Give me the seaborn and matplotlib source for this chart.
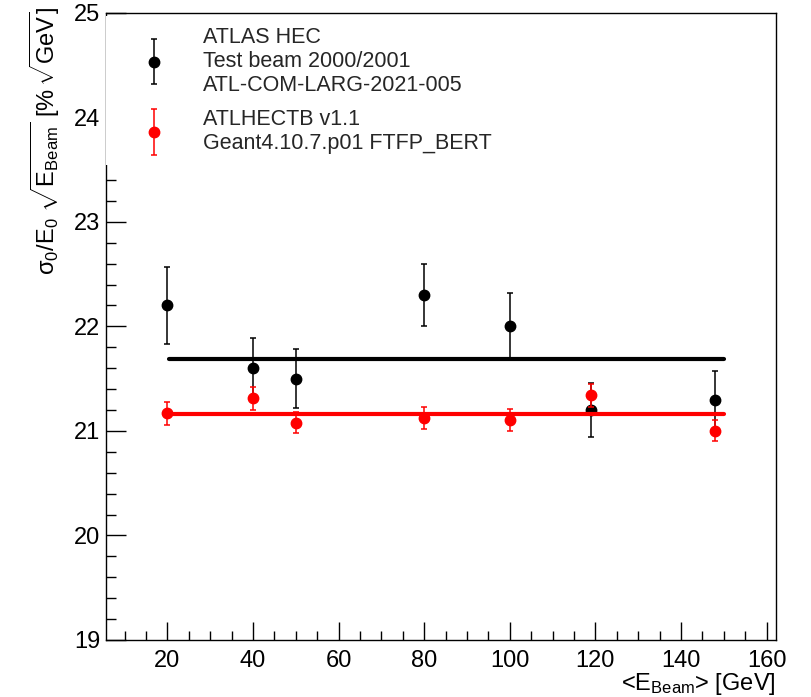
import matplotlib
matplotlib.use("Agg")
import matplotlib.pyplot as plt
import pandas as pd
import seaborn as sns
from matplotlib.container import ErrorbarContainer
from matplotlib.legend_handler import HandlerErrorbar
from matplotlib.ticker import MultipleLocator

# beam energies [GeV]
energy = [20, 40, 50, 80, 100, 119, 148]

# test beam data: sigma0/E0 * sqrt(E) [% sqrt(GeV)]
data_res = [22.20, 21.60, 21.50, 22.30, 22.00, 21.20, 21.30]
data_err = [0.37, 0.29, 0.28, 0.30, 0.32, 0.26, 0.27]

# Geant4 simulation
sim_res = [21.17, 21.31, 21.08, 21.12, 21.10, 21.34, 21.00]
sim_err = [0.11, 0.11, 0.10, 0.105, 0.105, 0.11, 0.10]

# constant fits
data_fit = [21.685, 21.685]
data_fit_x = [20.5, 150]
sim_fit = [21.162, 21.162]
sim_fit_x = [20, 150]

data_label = "ATLAS HEC\nTest beam 2000/2001\nATL-COM-LARG-2021-005"
sim_label = "ATLHECTB v1.1\nGeant4.10.7.p01 FTFP_BERT"

df = pd.DataFrame({"energy": energy, "data": data_res, "data_err": data_err,
                   "sim": sim_res, "sim_err": sim_err})

sns.set_theme(style="white")
plt.rcParams["font.family"] = ["Liberation Sans", "DejaVu Sans"]
plt.rcParams["mathtext.fontset"] = "custom"
plt.rcParams["mathtext.rm"] = "Liberation Sans"
plt.rcParams["mathtext.it"] = "Liberation Sans:italic"
plt.rcParams["axes.edgecolor"] = "black"

fig = plt.figure(figsize=(8.11, 6.97), dpi=100)
ax = fig.add_axes([0.1303, 0.0818, 0.8265, 0.9000])

h_data = ax.errorbar(df["energy"], df["data"], yerr=df["data_err"], fmt="o",
                     color="black", ms=7.5, elinewidth=1.1, capsize=2.5,
                     capthick=1.1, zorder=3, label=data_label)
h_sim = ax.errorbar(df["energy"], df["sim"], yerr=df["sim_err"], fmt="o",
                    color="#ff0000", ms=7.5, elinewidth=1.1, capsize=2.5,
                    capthick=1.1, zorder=4, label=sim_label)

sns.lineplot(x=data_fit_x, y=data_fit, color="black", lw=3, ax=ax, zorder=3.5)
sns.lineplot(x=sim_fit_x, y=sim_fit, color="#ff0000", lw=3, ax=ax, zorder=4.5)

ax.set_xlim(5.6, 162.2)
ax.set_ylim(19, 25)
ax.xaxis.set_major_locator(MultipleLocator(20))
ax.xaxis.set_minor_locator(MultipleLocator(5))
ax.yaxis.set_major_locator(MultipleLocator(1))
ax.yaxis.set_minor_locator(MultipleLocator(0.2))
ax.tick_params(axis="both", which="both", direction="in", colors="black",
               labelsize=17, bottom=True, left=True, top=False, right=False)
ax.tick_params(axis="x", which="major", length=13, width=1, pad=7)
ax.tick_params(axis="x", which="minor", length=6.5, width=1)
ax.tick_params(axis="y", which="major", length=14.5, width=1, pad=4)
ax.tick_params(axis="y", which="minor", length=7, width=1)
for s in ax.spines.values():
    s.set_linewidth(1.0)
    s.set_color("black")

ax.set_xlabel(r"<$\mathrm{E_{Beam}}$> [GeV]", loc="right", fontsize=17,
              color="black")
ax.xaxis.set_label_coords(1.0, -0.05)
ax.set_ylabel(r"$\mathrm{\sigma_0/E_0\ \sqrt{E_{Beam}}\ [\%\,\sqrt{GeV}]}$",
              loc="top", fontsize=17, color="black")
ax.yaxis.set_label_coords(-0.065, 1.01)

leg = ax.legend(handles=[h_data, h_sim], labels=[data_label, sim_label],
                loc="upper left", bbox_to_anchor=(0.0, 0.995),
                borderaxespad=0, borderpad=0.5, handlelength=3.5,
                handletextpad=0.5, labelspacing=0.6, fontsize=15.5,
                frameon=True, fancybox=False, framealpha=1,
                facecolor="white", edgecolor="none",
                handler_map={ErrorbarContainer: HandlerErrorbar(yerr_size=1.05)})
leg.set_zorder(10)

fig.savefig("out.png", dpi=100)
